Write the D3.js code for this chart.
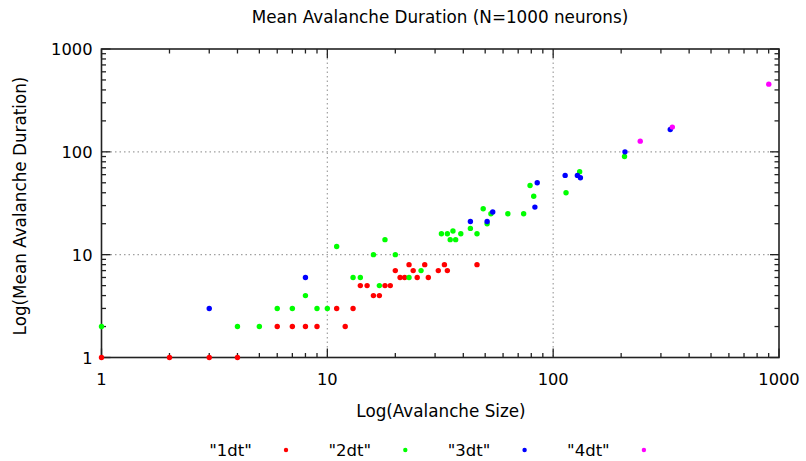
<!DOCTYPE html>
<html><head><meta charset="utf-8">
<script src="https://cdn.jsdelivr.net/npm/d3@7"></script>
<style>body{margin:0;background:#fff}svg{display:block}text{font-family:"DejaVu Sans",sans-serif;fill:#000}</style>
</head><body><svg id="c" width="806" height="461"></svg>
<script>
const seriesNames = ['"1dt"', '"2dt"', '"3dt"', '"4dt"'];
const seriesColors = ["#ff0000", "#00ff00", "#0000ff", "#ff00ff"];
const s1dt = [[1,1],[2,1],[3,1],[4,1],[6,2],[7,2],[8,2],[9,2],[11,3],[12,2],[13,3],[14,5],[15,5],[16,4],[17,4],[18,5],[19,5],[20,7],[21,6],[22,6],[23,8],[24,7],[25,6],[27,8],[28,6],[31,7],[33,8],[34,7],[46,8]];
const s2dt = [[1,2],[4,2],[5,2],[6,3],[7,3],[8,4],[9,3],[10,3],[11,12],[13,6],[14,6],[16,10],[17,5],[18,14],[20,10],[23,6],[26,7],[32,16],[34,16],[35,14],[36,17],[37,14],[39,16],[43,18],[46,16],[49,28],[51,20],[53,25],[63,25],[74,25],[79,47],[82,37],[114,40],[131,64],[207,90]];
const s3dt = [[3,3],[8,6],[43,21],[51,21],[54,26],[83,29],[85,50],[113,59],[128,59],[132,56],[208,100],[330,165]];
const s4dt = [[243,127],[337,174],[901,455]];
const xTickLabels = ["1","10","100","1000"];
const yTickLabels = ["1","10","100","1000"];
const titleText = "Mean Avalanche Duration (N=1000 neurons)";
const xLabel = "Log(Avalanche Size)";
const yLabel = "Log(Mean Avalanche Duration)";

const svg = d3.select("#c");
const L = 101.5, R = 779, T = 49, B = 357.5;
const x = d3.scaleLog().domain([1,1000]).range([L,R]);
const y = d3.scaleLog().domain([1,1000]).range([B,T]);

const majors = [1,10,100,1000];
const minors = [];
[1,10,100].forEach(d => { for (let k=2;k<=9;k++) minors.push(d*k); });

// grid
const g = svg.append("g").attr("stroke","#a0a0a0").attr("stroke-width",1.2).attr("stroke-dasharray","1.5,3");
[10,100].forEach(v => {
  g.append("line").attr("x1",x(v)).attr("x2",x(v)).attr("y1",T).attr("y2",B);
  g.append("line").attr("y1",y(v)).attr("y2",y(v)).attr("x1",L).attr("x2",R);
});

// ticks
const tk = svg.append("g").attr("stroke","#222").attr("stroke-width",1.3);
majors.forEach(v => {
  tk.append("line").attr("x1",x(v)).attr("x2",x(v)).attr("y1",B).attr("y2",B-9);
  tk.append("line").attr("x1",x(v)).attr("x2",x(v)).attr("y1",T).attr("y2",T+9);
  tk.append("line").attr("y1",y(v)).attr("y2",y(v)).attr("x1",L).attr("x2",L+9);
  tk.append("line").attr("y1",y(v)).attr("y2",y(v)).attr("x1",R).attr("x2",R-9);
});
minors.forEach(v => {
  tk.append("line").attr("x1",x(v)).attr("x2",x(v)).attr("y1",B).attr("y2",B-4.5);
  tk.append("line").attr("x1",x(v)).attr("x2",x(v)).attr("y1",T).attr("y2",T+4.5);
  tk.append("line").attr("y1",y(v)).attr("y2",y(v)).attr("x1",L).attr("x2",L+4.5);
  tk.append("line").attr("y1",y(v)).attr("y2",y(v)).attr("x1",R).attr("x2",R-4.5);
});

// frame
svg.append("rect").attr("x",L).attr("y",T).attr("width",R-L).attr("height",B-T)
  .attr("fill","none").attr("stroke","#222").attr("stroke-width",1.6);

// tick labels
majors.forEach((v,i) => {
  svg.append("text").attr("x",x(v)).attr("y",B+27).attr("text-anchor","middle")
    .attr("font-size",16.3).text(xTickLabels[i]);
  svg.append("text").attr("x",L-9).attr("y",y(v)+6).attr("text-anchor","end")
    .attr("font-size",16.3).text(yTickLabels[i]);
});

// titles
svg.append("text").attr("x",440).attr("y",23).attr("text-anchor","middle").attr("font-size",16.8).text(titleText);
svg.append("text").attr("x",441).attr("y",417).attr("text-anchor","middle").attr("font-size",16.8).text(xLabel);
svg.append("text").attr("transform","translate(26,206) rotate(-90)").attr("text-anchor","middle").attr("font-size",16.8).text(yLabel);

// points
const allSeries = [s1dt, s2dt, s3dt, s4dt];
allSeries.forEach((s,i) => {
  svg.append("g").selectAll("circle").data(s).join("circle")
    .attr("cx", d => x(d[0])).attr("cy", d => y(d[1])).attr("r",2.7)
    .attr("fill", seriesColors[i]);
});

// legend
seriesNames.forEach((n,i) => {
  const cx = 230.5 + i*119.3;
  svg.append("text").attr("x",cx).attr("y",456).attr("text-anchor","middle").attr("font-size",16.5).text(n);
  svg.append("circle").attr("cx",cx+55.5).attr("cy",450).attr("r",2.2).attr("fill",seriesColors[i]);
});
</script></body></html>
